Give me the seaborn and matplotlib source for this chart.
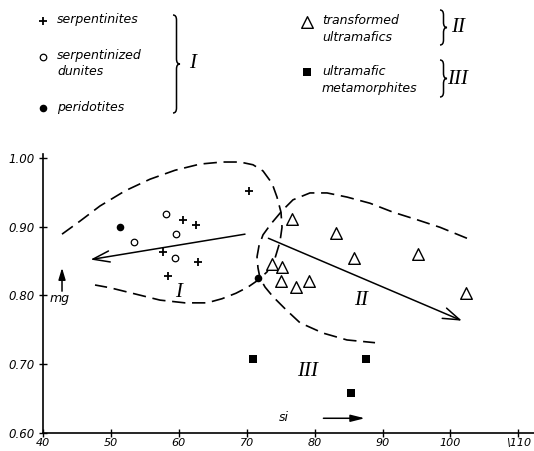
import seaborn as sns
import matplotlib.pyplot as plt
from matplotlib.path import Path
from matplotlib.patches import PathPatch

serp_si = [70.4, 60.6, 62.5, 57.7, 62.9, 58.4]
serp_mg = [0.952, 0.910, 0.903, 0.863, 0.848, 0.828]
dun_si = [53.4, 58.1, 59.6, 59.5]
dun_mg = [0.878, 0.918, 0.889, 0.855]
perid_si = [51.3, 71.7]
perid_mg = [0.900, 0.825]
trans_si = [76.7, 83.2, 85.8, 95.2, 102.3, 73.7, 75.2, 75.1, 77.2, 79.2]
trans_mg = [0.911, 0.891, 0.855, 0.860, 0.804, 0.845, 0.841, 0.821, 0.812, 0.821]
meta_si = [71.0, 87.6, 85.4]
meta_mg = [0.707, 0.708, 0.658]

# dashed field boundaries
env1_si = [42.80, 45.45, 48.39, 52.08, 55.76, 59.44, 63.12, 66.36, 69.01, 70.93,
           72.40, 73.73, 74.46, 75.05, 75.20, 74.90, 74.17, 72.99, 71.66, 70.19,
           68.42, 66.36, 64.15, 60.91, 57.23, 53.55, 49.87, 47.66]
env1_mg = [0.889, 0.908, 0.930, 0.952, 0.969, 0.982, 0.991, 0.994, 0.994, 0.990,
           0.981, 0.963, 0.943, 0.921, 0.899, 0.878, 0.854, 0.834, 0.822, 0.812,
           0.803, 0.795, 0.789, 0.789, 0.793, 0.802, 0.811, 0.815]
env2_si = [102.44, 98.47, 95.08, 91.55, 88.16, 84.77, 81.83, 79.32, 76.82, 75.20,
           73.58, 72.40, 71.81, 71.52, 71.66, 71.96, 72.70, 73.87, 75.79, 77.85,
           81.24, 84.77, 88.90]
env2_mg = [0.883, 0.899, 0.910, 0.921, 0.934, 0.943, 0.949, 0.949, 0.939, 0.923,
           0.904, 0.888, 0.872, 0.856, 0.840, 0.825, 0.812, 0.798, 0.779, 0.760,
           0.745, 0.735, 0.731]

# trend arrows (start, end)
arrow1 = [(69.75, 0.889), (47.0, 0.852)]
arrow2 = [(73.2, 0.883), (101.7, 0.763)]

xticks = [40, 50, 60, 70, 80, 90, 100, 110]
xticklabels = ["40", "50", "60", "70", "80", "90", "100", "\\110"]
yticks = [0.60, 0.70, 0.80, 0.90, 1.00]
yticklabels = ["0.60", "0.70", "0.80", "0.90", "1.00"]

sns.set_theme(style="white", rc={"text.color": "black", "axes.labelcolor": "black",
                                 "xtick.color": "black", "ytick.color": "black"})
plt.rcParams["font.family"] = ["DejaVu Sans"]
plt.rcParams["font.style"] = "italic"

fig = plt.figure(figsize=(5.34, 4.51), dpi=100)
W, H = 534, 451

# main axes
ax = fig.add_axes([43 / W, 18.3 / H, (W - 43) / W, (432.7 - 154) / H])
ax.set_xlim(40, 40 + (W - 43) / 6.79)
ax.set_ylim(0.60, 0.60 + (432.7 - 154) / 687)

k = dict(color="black", ax=ax, legend=False, zorder=3)
sns.scatterplot(x=serp_si, y=serp_mg, marker="+", s=40, linewidth=1.3, **k)
sns.scatterplot(x=dun_si, y=dun_mg, marker="o", s=22, facecolor="white",
                edgecolor="black", linewidth=0.9, ax=ax, legend=False, zorder=3)
sns.scatterplot(x=perid_si, y=perid_mg, marker="o", s=30, linewidth=0, **k)
sns.scatterplot(x=trans_si, y=trans_mg, marker="^", s=70, facecolor="white",
                edgecolor="black", linewidth=1.0, ax=ax, legend=False, zorder=3)
sns.scatterplot(x=meta_si, y=meta_mg, marker="s", s=28, linewidth=0, **k)

dash = (0, (8, 4))
ax.plot(env1_si, env1_mg, color="black", lw=1.2, linestyle=dash, zorder=2)
ax.plot(env2_si, env2_mg, color="black", lw=1.2, linestyle=dash, zorder=2)

for a in (arrow1, arrow2):
    ax.annotate("", xy=a[1], xytext=a[0],
                arrowprops=dict(arrowstyle="->,head_length=0.6,head_width=0.2",
                                lw=1.1, color="black", mutation_scale=20,
                                shrinkA=0, shrinkB=0))

# axis hint arrows
ax.annotate("", xy=(42.8, 0.840), xytext=(42.8, 0.806),
            arrowprops=dict(arrowstyle="-|>,head_length=0.5,head_width=0.15",
                            lw=1.1, color="black", mutation_scale=14,
                            shrinkA=0, shrinkB=0))
ax.text(42.4, 0.796, "mg", fontsize=9, ha="center", va="center")
ax.annotate("", xy=(87.4, 0.621), xytext=(81.3, 0.621),
            arrowprops=dict(arrowstyle="-|>,head_length=0.6,head_width=0.15",
                            lw=1.1, color="black", mutation_scale=14,
                            shrinkA=0, shrinkB=0))
ax.text(75.5, 0.622, "si", fontsize=9, ha="center", va="center")

roman = dict(family="Liberation Serif", style="italic", fontsize=15,
             ha="center", va="center", color="black")
ax.text(59.9, 0.804, "I", **roman)
ax.text(86.9, 0.793, "II", **roman)
ax.text(79.0, 0.689, "III", **roman)

sns.despine(ax=ax)
for s in ("left", "bottom"):
    ax.spines[s].set_linewidth(1.2)
    ax.spines[s].set_color("black")
ax.set_xticks(xticks)
ax.set_xticklabels(xticklabels)
ax.set_yticks(yticks)
ax.set_yticklabels(yticklabels)
ax.tick_params(direction="inout", length=6, width=1, color="black",
               labelsize=8.5, labelcolor="black", pad=3,
               left=True, bottom=True)
ax.tick_params(axis="x", pad=1, labelsize=8)
for lab in ax.get_xticklabels() + ax.get_yticklabels():
    lab.set_fontstyle("italic")

# key above the plot, in pixel units
lg = fig.add_axes([0, 1 - 130 / H, 1, 130 / H])
lg.set_xlim(0, W)
lg.set_ylim(130, 0)
lg.axis("off")

kl = dict(color="black", ax=lg, legend=False)
sns.scatterplot(x=[42.7], y=[20.7], marker="+", s=40, linewidth=1.3, **kl)
sns.scatterplot(x=[42.7], y=[57], marker="o", s=22, facecolor="white",
                edgecolor="black", linewidth=0.9, ax=lg, legend=False)
sns.scatterplot(x=[42.7], y=[107.5], marker="o", s=30, linewidth=0, **kl)
sns.scatterplot(x=[307], y=[21.5], marker="^", s=70, facecolor="white",
                edgecolor="black", linewidth=1.0, ax=lg, legend=False)
sns.scatterplot(x=[307], y=[72], marker="s", s=28, linewidth=0, **kl)

tx = dict(fontsize=9, style="italic", va="center", ha="left", color="black")
lg.text(57, 20, "serpentinites", **tx)
lg.text(57, 55, "serpentinized", **tx)
lg.text(57, 71.5, "dunites", **tx)
lg.text(57, 107, "peridotites", **tx)
lg.text(322, 20, "transformed", **tx)
lg.text(322, 37.5, "ultramafics", **tx)
lg.text(322, 71.5, "ultramafic", **tx)
lg.text(322, 88.5, "metamorphites", **tx)


def brace(x, y0, y1, w=7, r=5):
    ym = (y0 + y1) / 2
    xm = x + w / 2
    verts = [(x, y0), (xm, y0), (xm, y0 + r), (xm, ym - r), (xm, ym), (x + w, ym),
             (xm, ym), (xm, ym + r), (xm, y1 - r), (xm, y1), (x, y1)]
    codes = [Path.MOVETO, Path.CURVE3, Path.CURVE3, Path.LINETO, Path.CURVE3,
             Path.CURVE3, Path.CURVE3, Path.CURVE3, Path.LINETO, Path.CURVE3,
             Path.CURVE3]
    lg.add_patch(PathPatch(Path(verts, codes), fill=False, lw=1.1,
                           edgecolor="black"))


brace(173, 15, 113)
brace(440, 10, 45)
brace(440, 60, 97)
lg.text(193, 63, "I", **roman)
lg.text(458, 27, "II", **roman)
lg.text(458, 80, "III", **roman)

fig.savefig("out.png", dpi=100)
